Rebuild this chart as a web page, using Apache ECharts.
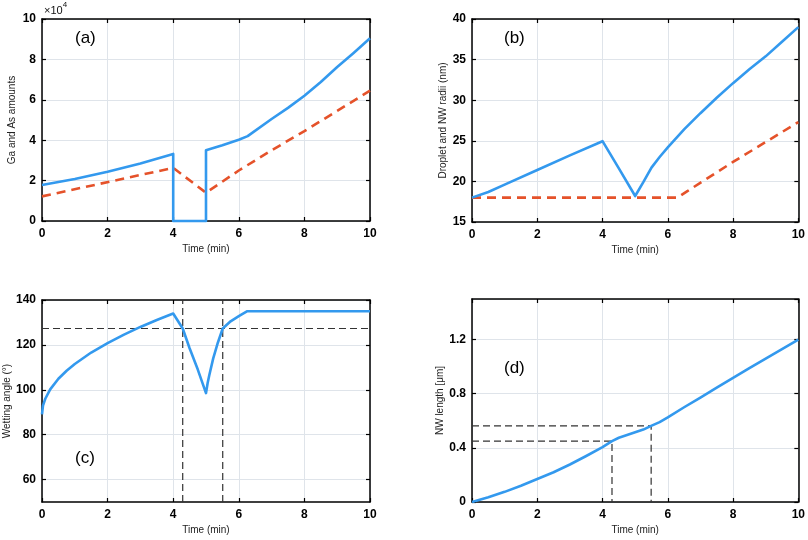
<!DOCTYPE html>
<html>
<head>
<meta charset="utf-8">
<script src="https://cdn.jsdelivr.net/npm/echarts@6/dist/echarts.min.js"></script>
<style>html,body{margin:0;padding:0;background:#fff}#c{width:808px;height:540px}</style>
</head>
<body>
<div id="c"></div>
<script>
// ---- Panel (a): Ga and As amounts (x10^4) ----
const aGaT = [0, 1, 2, 3, 4, 4, 5, 5, 5.5, 6, 6.27, 7, 7.5, 8, 8.5, 9, 9.5, 10];
const aGaV = [1.78, 2.08, 2.44, 2.85, 3.32, 0, 0, 3.5, 3.75, 4.02, 4.2, 5.05, 5.6, 6.2, 6.88, 7.62, 8.32, 9.05];
const aAsT = [0, 4, 5, 6, 7, 8, 9, 10];
const aAsV = [1.22, 2.63, 1.4, 2.5, 3.5, 4.45, 5.45, 6.45];
// ---- Panel (b): droplet and NW radii (nm) ----
const bDropT = [0, 0.5, 1, 2, 3, 4, 4.5, 5, 5.25, 5.5, 5.75, 6, 6.5, 7, 7.5, 8, 8.5, 9, 9.5, 10];
const bDropV = [18.0, 18.7, 19.6, 21.4, 23.2, 24.95, 21.6, 18.2, 19.9, 21.7, 23.0, 24.2, 26.4, 28.4, 30.3, 32.1, 33.8, 35.4, 37.2, 39.0];
const bNwT = [0, 6.3, 6.6, 8, 10];
const bNwV = [18, 18, 18.8, 22.4, 27.3];
// ---- Panel (c): wetting angle (deg) ----
const cT = [0, 0.03, 0.1, 0.25, 0.5, 0.75, 1, 1.5, 2, 2.5, 3, 3.5, 4, 4.29, 4.5, 4.75, 5, 5.05, 5.1, 5.22, 5.35, 5.51, 5.75, 6, 6.26, 10];
const cV = [89, 92.9, 96, 100.2, 104.9, 108.5, 111.5, 116.6, 120.8, 124.6, 128, 131.1, 134, 127.3, 118.5, 109, 98.5, 103, 106.5, 114, 120.5, 127.3, 130.5, 132.8, 135, 135];
const cRefAngle = 127.3;
const cRefT = [4.29, 5.51];
// ---- Panel (d): NW length (um) ----
const dT = [0, 0.5, 1, 1.5, 2, 2.5, 3, 3.5, 4, 4.29, 4.5, 4.75, 5, 5.25, 5.49, 5.75, 6, 6.5, 7, 7.5, 8, 8.5, 9, 9.5, 10];
const dV = [0, 0.035, 0.075, 0.12, 0.17, 0.22, 0.277, 0.34, 0.405, 0.45, 0.475, 0.495, 0.515, 0.535, 0.562, 0.59, 0.625, 0.7, 0.772, 0.845, 0.917, 0.99, 1.06, 1.13, 1.2];
const dRefL = [0.45, 0.562];
const dRefT = [4.29, 5.49];
// tick labels
const timeTicks = [0, 2, 4, 6, 8, 10];
const cAngleTicks = [60, 80, 100, 120, 140];

const FONT = '"Liberation Sans", Arial, sans-serif';
const BLUE = '#3399ee';
const RED = '#e5522a';
const REF = '#333';

function zip(xs, ys) { return xs.map((x, i) => [x, ys[i]]); }

const grids = [
  {left: 42, top: 19, width: 328, height: 202},
  {left: 472, top: 19, width: 328, height: 203},
  {left: 42, top: 300, width: 328, height: 202},
  {left: 472, top: 299, width: 328, height: 203}
];

const xAxes = [], yAxes = [];
function addAxes(gi, y) {
  const line = {show: true, onZero: false, lineStyle: {color: '#000', width: 1.5}};
  const tick = {show: true, inside: true, length: 4, lineStyle: {color: '#000', width: 1.2}};
  const lab = {color: '#000', fontWeight: 'bold', fontSize: 12, fontFamily: FONT};
  xAxes.push({
    type: 'value', gridIndex: gi, position: 'bottom', min: 0, max: 10, interval: 2,
    axisLine: line, axisTick: tick,
    axisLabel: Object.assign({margin: 7}, lab),
    splitLine: {show: true, lineStyle: {color: '#dfe4ea', width: 1}},
    name: 'Time (min)', nameLocation: 'middle', nameGap: 23,
    nameTextStyle: {color: '#222', fontSize: 10, fontFamily: FONT}
  });
  xAxes.push({
    type: 'value', gridIndex: gi, position: 'top', min: 0, max: 10, interval: 2,
    axisLine: line, axisTick: tick, axisLabel: {show: false}, splitLine: {show: false}
  });
  const yl = {
    type: 'value', gridIndex: gi, position: 'left', min: y.min, max: y.max,
    axisLine: line, axisTick: Object.assign({}, tick),
    axisLabel: Object.assign({margin: 6, showMaxLabel: y.showMax !== false}, lab),
    splitLine: {show: true, lineStyle: {color: '#dfe4ea', width: 1}},
    name: y.name, nameLocation: 'middle', nameGap: y.gap,
    nameTextStyle: {color: '#222', fontSize: 10, fontFamily: FONT}
  };
  const yr = {
    type: 'value', gridIndex: gi, position: 'right', min: y.min, max: y.max,
    axisLine: line, axisTick: Object.assign({}, tick), axisLabel: {show: false}, splitLine: {show: false}
  };
  if (y.interval != null) { yl.interval = y.interval; yr.interval = y.interval; }
  if (y.custom) {
    yl.axisTick.customValues = y.custom; yl.axisLabel.customValues = y.custom;
    yr.axisTick.customValues = y.custom; yr.axisLabel.customValues = y.custom;
  }
  yAxes.push(yl, yr);
}
addAxes(0, {min: 0, max: 10, interval: 2, name: 'Ga and As amounts', gap: 25});
addAxes(1, {min: 15, max: 40, interval: 5, name: 'Droplet and NW radii (nm)', gap: 24});
addAxes(2, {min: 50, max: 140, custom: cAngleTicks, name: 'Wetting angle (°)', gap: 30});
addAxes(3, {min: 0, max: 1.5, interval: 0.4, showMax: false, name: 'NW length [μm]', gap: 27});

function ln(gi, data, color, dashed, width, z) {
  return {
    type: 'line', xAxisIndex: 2 * gi, yAxisIndex: 2 * gi, data: data,
    showSymbol: false, symbol: 'none', clip: false, animation: false, silent: true,
    z: z || 3,
    lineStyle: {color: color, width: width, type: dashed ? dashed : 'solid', cap: 'butt', join: 'round'}
  };
}

const series = [
  ln(0, zip(aAsT, aAsV), RED, [9, 6], 2.6),
  ln(0, zip(aGaT, aGaV), BLUE, null, 2.6, 4),
  ln(1, zip(bNwT, bNwV), RED, [9, 6], 2.6),
  ln(1, zip(bDropT, bDropV), BLUE, null, 2.6, 4),
  ln(2, [[0, cRefAngle], [10, cRefAngle]], REF, [7, 4], 1.2),
  ln(2, [[cRefT[0], 50], [cRefT[0], 140]], REF, [7, 4], 1.2),
  ln(2, [[cRefT[1], 50], [cRefT[1], 140]], REF, [7, 4], 1.2),
  ln(2, zip(cT, cV), BLUE, null, 2.6, 4),
  ln(3, [[0, dRefL[0]], [dRefT[0], dRefL[0]], [dRefT[0], 0]], REF, [7, 4], 1.2),
  ln(3, [[0, dRefL[1]], [dRefT[1], dRefL[1]], [dRefT[1], 0]], REF, [7, 4], 1.2),
  ln(3, zip(dT, dV), BLUE, null, 2.6, 4)
];

function panelLabel(t, left, top) {
  return {type: 'text', left: left, top: top, z: 10,
    style: {text: t, fontSize: 17, fontFamily: FONT, fill: '#000'}};
}

const chart = echarts.init(document.getElementById('c'), null, {renderer: 'canvas'});
chart.setOption({
  animation: false,
  backgroundColor: '#fff',
  grid: grids,
  xAxis: xAxes,
  yAxis: yAxes,
  series: series,
  graphic: [
    panelLabel('(a)', 75, 30),
    panelLabel('(b)', 504, 30),
    panelLabel('(c)', 75, 450),
    panelLabel('(d)', 504, 360),
    {type: 'text', left: 44, top: 1, z: 10, style: {
      text: '{a|×10}{b|4}', fontFamily: FONT,
      rich: {a: {fontSize: 11, fill: '#111', fontFamily: FONT, verticalAlign: 'bottom', lineHeight: 15},
             b: {fontSize: 8, fill: '#111', fontFamily: FONT, verticalAlign: 'top', lineHeight: 15}}
    }}
  ]
});
</script>
</body>
</html>
